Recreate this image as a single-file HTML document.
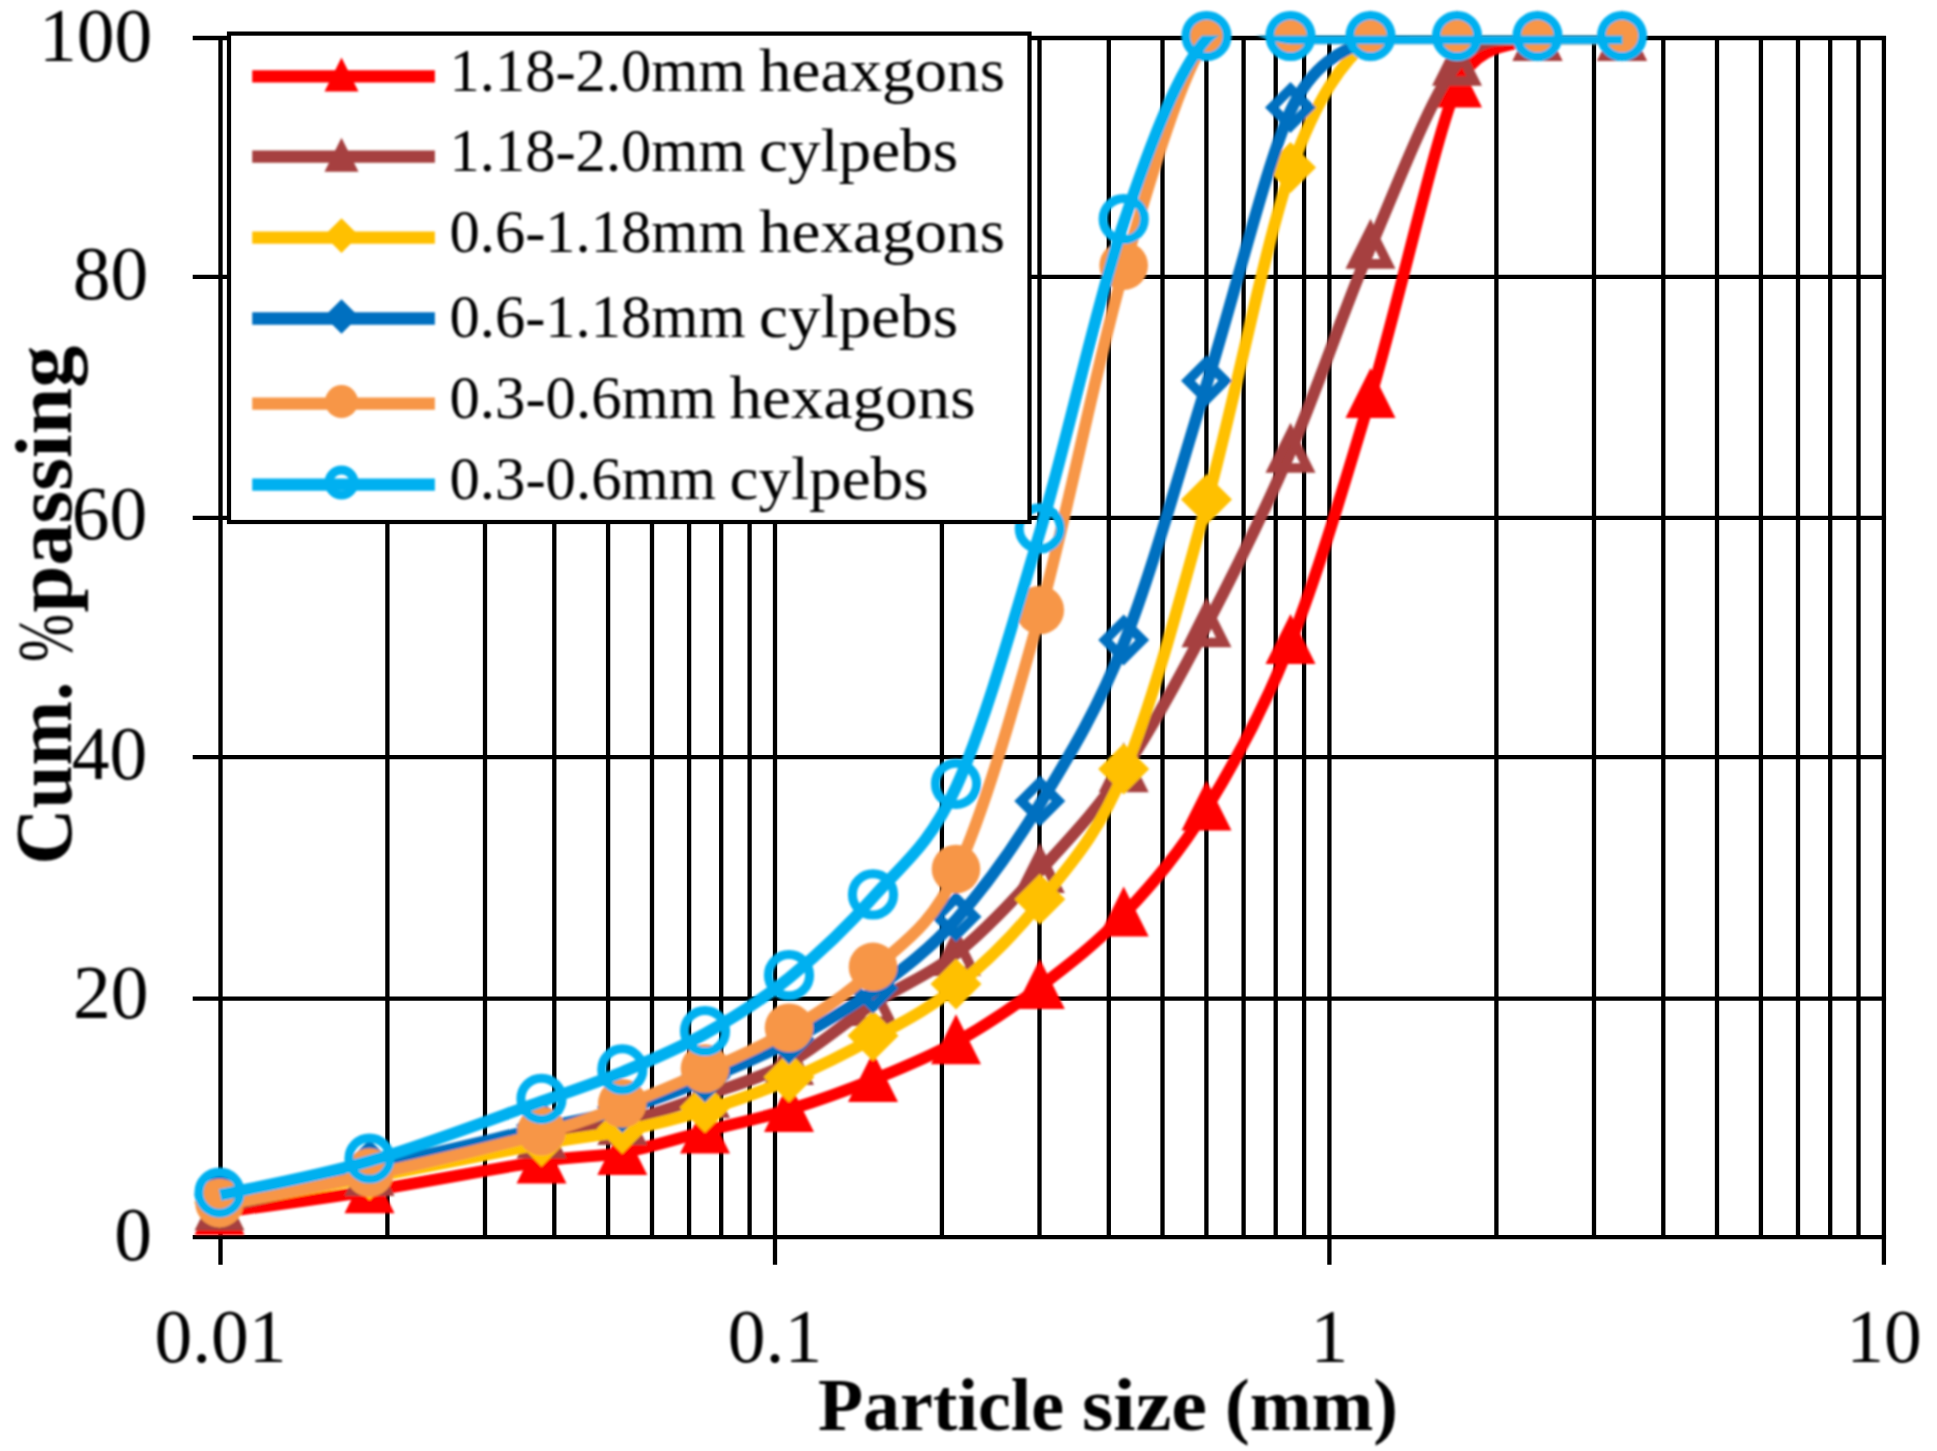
<!DOCTYPE html>
<html><head><meta charset="utf-8"><title>Particle size distribution</title>
<style>html,body{margin:0;padding:0;background:#fff}svg{display:block}text{font-family:"Liberation Serif",serif;fill:#000}</style>
</head><body>
<svg width="1937" height="1451" viewBox="0 0 1937 1451">
<rect width="1937" height="1451" fill="#fff"/>
<defs><clipPath id="pc"><rect x="150" y="35.6" width="1790" height="1300"/></clipPath><filter id="soft" x="0" y="0" width="100%" height="100%" filterUnits="userSpaceOnUse"><feGaussianBlur stdDeviation="1.1"/></filter></defs>
<path d="M220.5 35.9V1264.8M387.4 35.9V1237.2M485.0 35.9V1237.2M554.3 35.9V1237.2M608.1 35.9V1237.2M652.0 35.9V1237.2M689.1 35.9V1237.2M721.2 35.9V1237.2M749.6 35.9V1237.2M775.0 35.9V1264.8M941.9 35.9V1237.2M1039.5 35.9V1237.2M1108.8 35.9V1237.2M1162.5 35.9V1237.2M1206.4 35.9V1237.2M1243.6 35.9V1237.2M1275.7 35.9V1237.2M1304.1 35.9V1237.2M1329.4 35.9V1264.8M1496.4 35.9V1237.2M1594.0 35.9V1237.2M1663.3 35.9V1237.2M1717.0 35.9V1237.2M1760.9 35.9V1237.2M1798.0 35.9V1237.2M1830.2 35.9V1237.2M1858.5 35.9V1237.2M1883.9 35.9V1264.8M192.7 1237.2H1886.1M192.7 998.6H1886.1M192.7 757.2H1886.1M192.7 517.9H1886.1M192.7 276.8H1886.1M192.7 38.0H1886.1" stroke="#000" stroke-width="4.3" fill="none"/>
<g filter="url(#soft)">
<path d="M220.0 1212.5C245.0 1208.9 316.3 1199.4 370.0 1190.8C423.7 1182.2 501.8 1167.2 542.0 1161.1C582.2 1155.0 595.5 1157.5 622.8 1152.5C650.0 1147.5 677.7 1138.3 705.5 1131.1C733.3 1123.9 761.5 1118.1 789.5 1109.5C817.5 1100.9 845.7 1090.8 873.5 1079.5C901.3 1068.2 928.7 1057.3 956.5 1041.8C984.3 1026.3 1012.3 1007.8 1040.3 986.5C1068.2 965.2 1096.4 943.9 1124.2 914.1C1152.0 884.4 1179.2 853.4 1207.0 808.0C1234.8 762.6 1263.7 710.2 1291.0 641.5C1318.3 572.8 1343.2 488.2 1371.0 395.5C1398.8 302.8 1437.8 127.1 1457.5 85.0C1477.2 42.9 1510.5 46.2 1538.0 38.4C1565.5 30.6 1608.4 38.4 1622.5 38.4" fill="none" stroke="#FF0000" stroke-width="11.8" stroke-linejoin="round" clip-path="url(#pc)"/>
<path d="M219.5 1185.0L244.5 1235.0H194.5Z" fill="#FF0000"/>
<path d="M369.5 1163.3L394.5 1213.3H344.5Z" fill="#FF0000"/>
<path d="M541.5 1133.6L566.5 1183.6H516.5Z" fill="#FF0000"/>
<path d="M622.3 1125.0L647.3 1175.0H597.3Z" fill="#FF0000"/>
<path d="M705.0 1103.6L730.0 1153.6H680.0Z" fill="#FF0000"/>
<path d="M789.0 1082.0L814.0 1132.0H764.0Z" fill="#FF0000"/>
<path d="M873.0 1052.0L898.0 1102.0H848.0Z" fill="#FF0000"/>
<path d="M956.0 1014.3L981.0 1064.3H931.0Z" fill="#FF0000"/>
<path d="M1039.8 959.0L1064.8 1009.0H1014.8Z" fill="#FF0000"/>
<path d="M1123.7 886.6L1148.7 936.6H1098.7Z" fill="#FF0000"/>
<path d="M1206.5 780.5L1231.5 830.5H1181.5Z" fill="#FF0000"/>
<path d="M1290.5 614.0L1315.5 664.0H1265.5Z" fill="#FF0000"/>
<path d="M1370.5 368.0L1395.5 418.0H1345.5Z" fill="#FF0000"/>
<path d="M1457.0 57.5L1482.0 107.5H1432.0Z" fill="#FF0000"/>
<path d="M1537.5 11.0L1562.5 61.0H1512.5Z" fill="#FF0000"/>
<path d="M1622.0 11.0L1647.0 61.0H1597.0Z" fill="#FF0000"/>
<path d="M220.0 1208.1C245.0 1202.3 316.3 1185.5 370.0 1173.5C423.7 1161.5 501.8 1144.1 542.0 1136.0C582.2 1127.9 595.5 1129.2 622.8 1122.5C650.0 1115.8 677.7 1105.5 705.5 1095.5C733.3 1085.5 761.5 1077.8 789.5 1062.5C817.5 1047.2 845.7 1021.7 873.5 1003.5C901.3 985.3 928.7 975.7 956.5 953.5C984.3 931.3 1012.3 901.1 1040.3 870.5C1068.2 839.9 1096.4 810.8 1124.2 769.8C1152.0 728.8 1179.2 678.0 1207.0 624.8C1234.8 571.5 1263.7 513.4 1291.0 450.3C1318.3 387.2 1343.2 310.7 1371.0 246.2C1398.8 181.7 1431.1 96.1 1457.5 63.3C1483.9 30.5 1510.5 42.5 1538.0 38.4C1565.5 34.2 1608.4 38.4 1622.5 38.4" fill="none" stroke="#A6413F" stroke-width="11.8" stroke-linejoin="round" clip-path="url(#pc)"/>
<path fill-rule="evenodd" d="M219.5 1180.6L244.5 1230.6H194.5ZM219.5 1202.0L229.0 1221.0H210.0Z" fill="#A6413F"/>
<path fill-rule="evenodd" d="M369.5 1146.0L394.5 1196.0H344.5ZM369.5 1167.4L379.0 1186.4H360.0Z" fill="#A6413F"/>
<path fill-rule="evenodd" d="M541.5 1108.5L566.5 1158.5H516.5ZM541.5 1129.9L551.0 1148.9H532.0Z" fill="#A6413F"/>
<path fill-rule="evenodd" d="M622.3 1095.0L647.3 1145.0H597.3ZM622.3 1116.4L631.8 1135.4H612.8Z" fill="#A6413F"/>
<path fill-rule="evenodd" d="M705.0 1068.0L730.0 1118.0H680.0ZM705.0 1089.4L714.5 1108.4H695.5Z" fill="#A6413F"/>
<path fill-rule="evenodd" d="M789.0 1035.0L814.0 1085.0H764.0ZM789.0 1056.4L798.5 1075.4H779.5Z" fill="#A6413F"/>
<path fill-rule="evenodd" d="M873.0 976.0L898.0 1026.0H848.0ZM873.0 997.4L882.5 1016.4H863.5Z" fill="#A6413F"/>
<path fill-rule="evenodd" d="M956.0 926.0L981.0 976.0H931.0ZM956.0 947.4L965.5 966.4H946.5Z" fill="#A6413F"/>
<path fill-rule="evenodd" d="M1039.8 843.0L1064.8 893.0H1014.8ZM1039.8 864.4L1049.3 883.4H1030.3Z" fill="#A6413F"/>
<path fill-rule="evenodd" d="M1123.7 742.3L1148.7 792.3H1098.7ZM1123.7 763.7L1133.2 782.7H1114.2Z" fill="#A6413F"/>
<path fill-rule="evenodd" d="M1206.5 597.3L1231.5 647.3H1181.5ZM1206.5 618.7L1216.0 637.7H1197.0Z" fill="#A6413F"/>
<path fill-rule="evenodd" d="M1290.5 422.8L1315.5 472.8H1265.5ZM1290.5 444.2L1300.0 463.2H1281.0Z" fill="#A6413F"/>
<path fill-rule="evenodd" d="M1370.5 218.7L1395.5 268.7H1345.5ZM1370.5 240.1L1380.0 259.1H1361.0Z" fill="#A6413F"/>
<path fill-rule="evenodd" d="M1457.0 35.8L1482.0 85.8H1432.0ZM1457.0 57.2L1466.5 76.2H1447.5Z" fill="#A6413F"/>
<path fill-rule="evenodd" d="M1537.5 11.0L1562.5 61.0H1512.5ZM1537.5 32.4L1547.0 51.4H1528.0Z" fill="#A6413F"/>
<path fill-rule="evenodd" d="M1622.0 11.0L1647.0 61.0H1597.0ZM1622.0 32.4L1631.5 51.4H1612.5Z" fill="#A6413F"/>
<path d="M220.0 1205.0C245.0 1200.4 316.3 1187.7 370.0 1177.5C423.7 1167.3 501.8 1151.2 542.0 1143.8C582.2 1136.4 595.5 1136.5 622.8 1130.9C650.0 1125.3 677.7 1118.6 705.5 1110.0C733.3 1101.4 761.5 1091.5 789.5 1079.5C817.5 1067.5 845.7 1053.7 873.5 1038.2C901.3 1022.7 928.7 1009.2 956.5 986.5C984.3 963.8 1012.3 937.6 1040.3 901.8C1068.2 866.0 1096.4 838.1 1124.2 771.5C1152.0 704.9 1179.2 602.3 1207.0 502.0C1234.8 401.7 1265.3 242.5 1291.0 169.9C1316.7 97.3 1343.2 60.3 1371.0 38.4C1398.8 16.5 1429.7 38.4 1457.5 38.4C1485.3 38.4 1510.5 38.4 1538.0 38.4C1565.5 38.4 1608.4 38.4 1622.5 38.4" fill="none" stroke="#FFC000" stroke-width="11.8" stroke-linejoin="round" clip-path="url(#pc)"/>
<path d="M219.5 1177.0L245.0 1202.5L219.5 1228.0L194.0 1202.5Z" fill="#FFC000"/>
<path d="M369.5 1149.5L395.0 1175.0L369.5 1200.5L344.0 1175.0Z" fill="#FFC000"/>
<path d="M541.5 1115.8L567.0 1141.3L541.5 1166.8L516.0 1141.3Z" fill="#FFC000"/>
<path d="M622.3 1102.9L647.8 1128.4L622.3 1153.9L596.8 1128.4Z" fill="#FFC000"/>
<path d="M705.0 1082.0L730.5 1107.5L705.0 1133.0L679.5 1107.5Z" fill="#FFC000"/>
<path d="M789.0 1051.5L814.5 1077.0L789.0 1102.5L763.5 1077.0Z" fill="#FFC000"/>
<path d="M873.0 1010.2L898.5 1035.7L873.0 1061.2L847.5 1035.7Z" fill="#FFC000"/>
<path d="M956.0 958.5L981.5 984.0L956.0 1009.5L930.5 984.0Z" fill="#FFC000"/>
<path d="M1039.8 873.8L1065.3 899.3L1039.8 924.8L1014.3 899.3Z" fill="#FFC000"/>
<path d="M1123.7 743.5L1149.2 769.0L1123.7 794.5L1098.2 769.0Z" fill="#FFC000"/>
<path d="M1206.5 474.0L1232.0 499.5L1206.5 525.0L1181.0 499.5Z" fill="#FFC000"/>
<path d="M1290.5 141.9L1316.0 167.4L1290.5 192.9L1265.0 167.4Z" fill="#FFC000"/>
<path d="M1370.5 10.5L1396.0 36.0L1370.5 61.5L1345.0 36.0Z" fill="#FFC000"/>
<path d="M1457.0 10.5L1482.5 36.0L1457.0 61.5L1431.5 36.0Z" fill="#FFC000"/>
<path d="M1537.5 10.5L1563.0 36.0L1537.5 61.5L1512.0 36.0Z" fill="#FFC000"/>
<path d="M1622.0 10.5L1647.5 36.0L1622.0 61.5L1596.5 36.0Z" fill="#FFC000"/>
<path d="M220.0 1197.5C245.0 1192.5 316.3 1179.1 370.0 1167.5C423.7 1155.9 501.6 1137.1 542.0 1127.9C582.4 1118.7 595.5 1117.8 622.8 1109.7C650.0 1101.6 677.7 1090.9 705.5 1079.5C733.3 1068.1 761.5 1056.3 789.5 1041.5C817.5 1026.7 845.7 1011.1 873.5 990.7C901.3 970.3 928.7 950.4 956.5 919.2C984.3 888.0 1012.3 849.6 1040.3 803.5C1068.2 757.4 1096.4 712.5 1124.2 642.5C1152.0 572.5 1179.2 472.1 1207.0 383.3C1234.8 294.6 1267.9 158.5 1291.0 110.0C1314.1 61.5 1343.2 50.3 1371.0 38.4C1398.8 26.5 1429.7 38.4 1457.5 38.4C1485.3 38.4 1510.5 38.4 1538.0 38.4C1565.5 38.4 1608.4 38.4 1622.5 38.4" fill="none" stroke="#0070C0" stroke-width="11.8" stroke-linejoin="round" clip-path="url(#pc)"/>
<path fill-rule="evenodd" d="M219.5 1169.5L245.0 1195.0L219.5 1220.5L194.0 1195.0ZM219.5 1183.3L231.2 1195.0L219.5 1206.7L207.8 1195.0Z" fill="#0070C0"/>
<path fill-rule="evenodd" d="M369.5 1139.5L395.0 1165.0L369.5 1190.5L344.0 1165.0ZM369.5 1153.3L381.2 1165.0L369.5 1176.7L357.8 1165.0Z" fill="#0070C0"/>
<path fill-rule="evenodd" d="M541.5 1099.9L567.0 1125.4L541.5 1150.9L516.0 1125.4ZM541.5 1113.7L553.2 1125.4L541.5 1137.1L529.8 1125.4Z" fill="#0070C0"/>
<path fill-rule="evenodd" d="M622.3 1081.7L647.8 1107.2L622.3 1132.7L596.8 1107.2ZM622.3 1095.5L634.0 1107.2L622.3 1118.9L610.6 1107.2Z" fill="#0070C0"/>
<path fill-rule="evenodd" d="M705.0 1051.5L730.5 1077.0L705.0 1102.5L679.5 1077.0ZM705.0 1065.3L716.7 1077.0L705.0 1088.7L693.3 1077.0Z" fill="#0070C0"/>
<path fill-rule="evenodd" d="M789.0 1013.5L814.5 1039.0L789.0 1064.5L763.5 1039.0ZM789.0 1027.3L800.7 1039.0L789.0 1050.7L777.3 1039.0Z" fill="#0070C0"/>
<path fill-rule="evenodd" d="M873.0 962.7L898.5 988.2L873.0 1013.7L847.5 988.2ZM873.0 976.5L884.7 988.2L873.0 999.9L861.3 988.2Z" fill="#0070C0"/>
<path fill-rule="evenodd" d="M956.0 891.2L981.5 916.7L956.0 942.2L930.5 916.7ZM956.0 905.0L967.7 916.7L956.0 928.4L944.3 916.7Z" fill="#0070C0"/>
<path fill-rule="evenodd" d="M1039.8 775.5L1065.3 801.0L1039.8 826.5L1014.3 801.0ZM1039.8 789.3L1051.5 801.0L1039.8 812.7L1028.1 801.0Z" fill="#0070C0"/>
<path fill-rule="evenodd" d="M1123.7 614.5L1149.2 640.0L1123.7 665.5L1098.2 640.0ZM1123.7 628.3L1135.4 640.0L1123.7 651.7L1112.0 640.0Z" fill="#0070C0"/>
<path fill-rule="evenodd" d="M1206.5 355.3L1232.0 380.8L1206.5 406.3L1181.0 380.8ZM1206.5 369.1L1218.2 380.8L1206.5 392.5L1194.8 380.8Z" fill="#0070C0"/>
<path fill-rule="evenodd" d="M1290.5 82.0L1316.0 107.5L1290.5 133.0L1265.0 107.5ZM1290.5 95.8L1302.2 107.5L1290.5 119.2L1278.8 107.5Z" fill="#0070C0"/>
<path fill-rule="evenodd" d="M1370.5 10.5L1396.0 36.0L1370.5 61.5L1345.0 36.0ZM1370.5 24.3L1382.2 36.0L1370.5 47.7L1358.8 36.0Z" fill="#0070C0"/>
<path fill-rule="evenodd" d="M1457.0 10.5L1482.5 36.0L1457.0 61.5L1431.5 36.0ZM1457.0 24.3L1468.7 36.0L1457.0 47.7L1445.3 36.0Z" fill="#0070C0"/>
<path fill-rule="evenodd" d="M1537.5 10.5L1563.0 36.0L1537.5 61.5L1512.0 36.0ZM1537.5 24.3L1549.2 36.0L1537.5 47.7L1525.8 36.0Z" fill="#0070C0"/>
<path fill-rule="evenodd" d="M1622.0 10.5L1647.5 36.0L1622.0 61.5L1596.5 36.0ZM1622.0 24.3L1633.7 36.0L1622.0 47.7L1610.3 36.0Z" fill="#0070C0"/>
<path d="M220.0 1205.5C245.0 1200.4 316.3 1187.1 370.0 1175.1C423.7 1163.1 500.8 1144.8 542.0 1133.5C583.2 1122.2 595.5 1116.1 622.8 1105.7C650.0 1095.3 677.7 1083.6 705.5 1071.0C733.3 1058.4 761.5 1047.1 789.5 1030.2C817.5 1013.3 845.7 995.9 873.5 969.4C901.3 942.9 929.3 929.6 956.5 871.5C983.7 813.4 1012.3 713.1 1040.3 612.5C1068.2 511.9 1096.4 363.8 1124.2 268.1C1152.0 172.4 1182.3 72.4 1207.0 38.4C1231.7 4.4 1263.7 38.4 1291.0 38.4C1318.3 38.4 1343.2 38.4 1371.0 38.4C1398.8 38.4 1429.7 38.4 1457.5 38.4C1485.3 38.4 1510.5 38.4 1538.0 38.4C1565.5 38.4 1608.4 38.4 1622.5 38.4" fill="none" stroke="#F79646" stroke-width="11.8" stroke-linejoin="round" clip-path="url(#pc)"/>
<circle cx="219.5" cy="1203.0" r="24.3" fill="#F79646"/>
<circle cx="369.5" cy="1172.6" r="24.3" fill="#F79646"/>
<circle cx="541.5" cy="1131.0" r="24.3" fill="#F79646"/>
<circle cx="622.3" cy="1103.2" r="24.3" fill="#F79646"/>
<circle cx="705.0" cy="1068.5" r="24.3" fill="#F79646"/>
<circle cx="789.0" cy="1027.7" r="24.3" fill="#F79646"/>
<circle cx="873.0" cy="966.9" r="24.3" fill="#F79646"/>
<circle cx="956.0" cy="869.0" r="24.3" fill="#F79646"/>
<circle cx="1039.8" cy="610.0" r="24.3" fill="#F79646"/>
<circle cx="1123.7" cy="265.6" r="24.3" fill="#F79646"/>
<circle cx="1206.5" cy="36.0" r="24.3" fill="#F79646"/>
<circle cx="1290.5" cy="36.0" r="24.3" fill="#F79646"/>
<circle cx="1370.5" cy="36.0" r="24.3" fill="#F79646"/>
<circle cx="1457.0" cy="36.0" r="24.3" fill="#F79646"/>
<circle cx="1537.5" cy="36.0" r="24.3" fill="#F79646"/>
<circle cx="1622.0" cy="36.0" r="24.3" fill="#F79646"/>
<path d="M220.0 1195.1C245.0 1189.4 316.3 1176.6 370.0 1161.0C423.7 1145.4 501.5 1115.6 542.0 1101.3C582.5 1087.0 595.5 1083.2 622.8 1071.9C650.0 1060.6 677.7 1049.2 705.5 1033.5C733.3 1017.8 761.5 1000.5 789.5 977.7C817.5 954.9 845.7 928.8 873.5 896.9C901.3 865.0 928.7 847.3 956.5 786.3C984.3 725.3 1012.3 625.0 1040.3 530.9C1068.2 436.8 1096.4 303.6 1124.2 221.5C1152.0 139.4 1179.2 68.9 1207.0 38.4C1234.8 7.9 1263.7 38.4 1291.0 38.4C1318.3 38.4 1343.2 38.4 1371.0 38.4C1398.8 38.4 1429.7 38.4 1457.5 38.4C1485.3 38.4 1510.5 38.4 1538.0 38.4C1565.5 38.4 1608.4 38.4 1622.5 38.4" fill="none" stroke="#00B0F0" stroke-width="11.8" stroke-linejoin="round" clip-path="url(#pc)"/>
<circle cx="219.5" cy="1192.6" r="20.6" fill="none" stroke="#00B0F0" stroke-width="9.0"/>
<circle cx="369.5" cy="1158.5" r="20.6" fill="none" stroke="#00B0F0" stroke-width="9.0"/>
<circle cx="541.5" cy="1098.8" r="20.6" fill="none" stroke="#00B0F0" stroke-width="9.0"/>
<circle cx="622.3" cy="1069.4" r="20.6" fill="none" stroke="#00B0F0" stroke-width="9.0"/>
<circle cx="705.0" cy="1031.0" r="20.6" fill="none" stroke="#00B0F0" stroke-width="9.0"/>
<circle cx="789.0" cy="975.2" r="20.6" fill="none" stroke="#00B0F0" stroke-width="9.0"/>
<circle cx="873.0" cy="894.4" r="20.6" fill="none" stroke="#00B0F0" stroke-width="9.0"/>
<circle cx="956.0" cy="783.8" r="20.6" fill="none" stroke="#00B0F0" stroke-width="9.0"/>
<circle cx="1039.8" cy="528.4" r="20.6" fill="none" stroke="#00B0F0" stroke-width="9.0"/>
<circle cx="1123.7" cy="219.0" r="20.6" fill="none" stroke="#00B0F0" stroke-width="9.0"/>
<circle cx="1206.5" cy="36.0" r="20.6" fill="none" stroke="#00B0F0" stroke-width="9.0"/>
<circle cx="1290.5" cy="36.0" r="20.6" fill="none" stroke="#00B0F0" stroke-width="9.0"/>
<circle cx="1370.5" cy="36.0" r="20.6" fill="none" stroke="#00B0F0" stroke-width="9.0"/>
<circle cx="1457.0" cy="36.0" r="20.6" fill="none" stroke="#00B0F0" stroke-width="9.0"/>
<circle cx="1537.5" cy="36.0" r="20.6" fill="none" stroke="#00B0F0" stroke-width="9.0"/>
<circle cx="1622.0" cy="36.0" r="20.6" fill="none" stroke="#00B0F0" stroke-width="9.0"/>
</g>
<rect x="229" y="33.6" width="800.5" height="488.4" fill="#fff" stroke="#000" stroke-width="4.2"/>
<g filter="url(#soft)">
<path d="M252.2 76.4H434.9" stroke="#FF0000" stroke-width="12.3"/>
<path d="M341.5 57.4L358.5 91.4H324.5Z" fill="#FF0000"/>
<text y="90.5" font-size="61"><tspan x="449.5" textLength="296" lengthAdjust="spacingAndGlyphs">1.18-2.0mm</tspan> <tspan x="759" textLength="246" lengthAdjust="spacingAndGlyphs">heaxgons</tspan></text>
<path d="M252.2 156.7H434.9" stroke="#A6413F" stroke-width="12.3"/>
<path d="M341.5 137.7L358.5 171.7H324.5Z" fill="#A6413F"/>
<text y="170.9" font-size="61"><tspan x="449.5" textLength="296" lengthAdjust="spacingAndGlyphs">1.18-2.0mm</tspan> <tspan x="759" textLength="199" lengthAdjust="spacingAndGlyphs">cylpebs</tspan></text>
<path d="M252.2 237.6H434.9" stroke="#FFC000" stroke-width="12.3"/>
<path d="M341.5 218.3L358.8 235.6L341.5 252.9L324.2 235.6Z" fill="#FFC000"/>
<text y="251.8" font-size="61"><tspan x="449.5" textLength="296" lengthAdjust="spacingAndGlyphs">0.6-1.18mm</tspan> <tspan x="759" textLength="246" lengthAdjust="spacingAndGlyphs">hexagons</tspan></text>
<path d="M252.2 318.5H434.9" stroke="#0070C0" stroke-width="12.3"/>
<path d="M341.5 299.2L358.8 316.5L341.5 333.8L324.2 316.5Z" fill="#0070C0"/>
<text y="336.8" font-size="61"><tspan x="449.5" textLength="296" lengthAdjust="spacingAndGlyphs">0.6-1.18mm</tspan> <tspan x="759" textLength="199" lengthAdjust="spacingAndGlyphs">cylpebs</tspan></text>
<path d="M252.2 403.6H434.9" stroke="#F79646" stroke-width="12.3"/>
<circle cx="341.5" cy="401.6" r="16.5" fill="#F79646"/>
<text y="417.7" font-size="61"><tspan x="449.5" textLength="266.5" lengthAdjust="spacingAndGlyphs">0.3-0.6mm</tspan> <tspan x="729.5" textLength="246" lengthAdjust="spacingAndGlyphs">hexagons</tspan></text>
<path d="M252.2 484.6H434.9" stroke="#00B0F0" stroke-width="12.3"/>
<circle cx="341.5" cy="482.6" r="12.6" fill="none" stroke="#00B0F0" stroke-width="8.8"/>
<text y="498.6" font-size="61"><tspan x="449.5" textLength="266.5" lengthAdjust="spacingAndGlyphs">0.3-0.6mm</tspan> <tspan x="729.5" textLength="199" lengthAdjust="spacingAndGlyphs">cylpebs</tspan></text>
<text x="152.2" y="61.2" font-size="75.5" text-anchor="end">100</text>
<text x="148.3" y="299.4" font-size="75.5" text-anchor="end">80</text>
<text x="147.2" y="538.7" font-size="75.5" text-anchor="end">60</text>
<text x="147.3" y="778.5" font-size="75.5" text-anchor="end">40</text>
<text x="148.5" y="1017.6" font-size="75.5" text-anchor="end">20</text>
<text x="152.1" y="1260.2" font-size="75.5" text-anchor="end">0</text>
<text x="220.5" y="1362.4" font-size="75.5" text-anchor="middle">0.01</text>
<text x="775.0" y="1362.4" font-size="75.5" text-anchor="middle">0.1</text>
<text x="1329.4" y="1362.4" font-size="75.5" text-anchor="middle">1</text>
<text x="1883.9" y="1362.4" font-size="75.5" text-anchor="middle">10</text>
<text y="1429.7" font-size="74" font-weight="bold"><tspan x="818" textLength="246" lengthAdjust="spacingAndGlyphs">Particle</tspan> <tspan x="1082" textLength="125" lengthAdjust="spacingAndGlyphs">size</tspan> <tspan x="1225" textLength="173" lengthAdjust="spacingAndGlyphs">(mm)</tspan></text>
<text transform="translate(71 0) rotate(-90)" y="0" font-size="81" font-weight="bold"><tspan x="-864.5" textLength="183" lengthAdjust="spacingAndGlyphs">Cum.</tspan> <tspan x="-662" font-weight="normal" font-size="78" textLength="48" lengthAdjust="spacingAndGlyphs">%</tspan><tspan x="-612.5" textLength="267" lengthAdjust="spacingAndGlyphs">passing</tspan></text>
</g>
</svg>
</body></html>
